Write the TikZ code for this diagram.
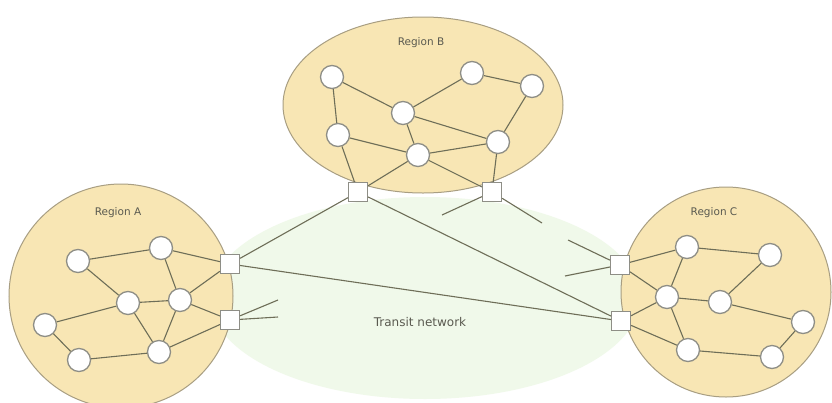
\documentclass[tikz,border=0pt]{standalone}
\usepackage{fontspec}
\setmainfont{DejaVu Sans}
\begin{document}
\begin{tikzpicture}[x=1pt,y=-1pt,
  region/.style={draw=regionline,fill=regionfill,line width=1pt},
  router/.style={circle,draw=nodeline,fill=white,line width=1.3pt,minimum size=23pt,inner sep=0pt},
  gateway/.style={rectangle,draw=nodeline,fill=white,line width=1.2pt,minimum size=19pt,inner sep=0pt},
  link/.style={draw=linkc,line width=1.1pt},
  lbl/.style={text=labelc,font=\fontsize{10.5}{12}\selectfont,inner sep=0pt}
]
\definecolor{regionfill}{HTML}{F8E6B4}
\definecolor{regionline}{HTML}{A89E82}
\definecolor{nodeline}{HTML}{8E8E86}
\definecolor{linkc}{HTML}{6E6E58}
\definecolor{labelc}{HTML}{5A5A50}
\definecolor{transit}{HTML}{F0F9EA}
\useasboundingbox (0,0) rectangle (832,402);
\fill[white] (0,0) rectangle (832,402);

% transit network
\fill[transit] (425,298) ellipse [x radius=215, y radius=101];
\node[lbl,font=\fontsize{12}{14}\selectfont] (tn) at (420,322) {Transit network};

% regions
\filldraw[region] (121,296) circle [radius=112];
\filldraw[region] (423,105) ellipse [x radius=140, y radius=88];
\filldraw[region] (726,292) circle [radius=105];

\node[lbl] (la) at (118,213) {Region A};
\node[lbl] (lb) at (421,43) {Region B};
\node[lbl] (lc) at (714,213) {Region C};

% Region A nodes
\node[router] (a1) at (78,261) {};
\node[router] (a2) at (161,248) {};
\node[router] (a3) at (128,303) {};
\node[router] (a4) at (180,300) {};
\node[router] (a5) at (45,325) {};
\node[router] (a6) at (79,360) {};
\node[router] (a7) at (159,352) {};
\node[gateway] (sa1) at (230,264) {};
\node[gateway] (sa2) at (230,320) {};

% Region B nodes
\node[router] (b1) at (332,77) {};
\node[router] (b2) at (472,73) {};
\node[router] (b3) at (532,86) {};
\node[router] (b4) at (403,113) {};
\node[router] (b5) at (338,135) {};
\node[router] (b6) at (418,155) {};
\node[router] (b7) at (498,142) {};
\node[gateway] (sb1) at (358,192) {};
\node[gateway] (sb2) at (492,192) {};

% Region C nodes
\node[router] (c1) at (687,247) {};
\node[router] (c2) at (770,255) {};
\node[router] (c3) at (667,297) {};
\node[router] (c4) at (720,302) {};
\node[router] (c5) at (803,322) {};
\node[router] (c6) at (688,350) {};
\node[router] (c7) at (772,357) {};
\node[gateway] (sc1) at (620,265) {};
\node[gateway] (sc2) at (621,321) {};

% stub end points
\coordinate (s1) at (278,300);
\coordinate (s2) at (278,317);
\coordinate (s3) at (442,215);
\coordinate (s4) at (542,223);
\coordinate (s5) at (568,240);
\coordinate (s6) at (565,276);

\path[link]
  (a1) -- (a2) (a2) -- (sa1) (a1) -- (a3) (a2) -- (a4) (a3) -- (a4)
  (a4) -- (sa1) (a4) -- (sa2) (a5) -- (a3) (a5) -- (a6) (a6) -- (a7)
  (a3) -- (a7) (a4) -- (a7) (a7) -- (sa2)
  (b1) -- (b4) (b1) -- (b5) (b2) -- (b4) (b2) -- (b3) (b3) -- (b7)
  (b4) -- (b7) (b4) -- (b6) (b5) -- (b6) (b6) -- (b7)
  (b5) -- (sb1) (b6) -- (sb1) (b6) -- (sb2) (b7) -- (sb2)
  (sc1) -- (c1) (sc1) -- (c3) (c1) -- (c3) (c1) -- (c2) (c2) -- (c4)
  (c3) -- (c4) (c3) -- (c6) (c4) -- (c5) (c5) -- (c7) (c6) -- (c7)
  (sc2) -- (c3) (sc2) -- (c6)
  (sa1) -- (sb1) (sa1) -- (sc2) (sb1) -- (sc2)
  (sa2) -- (s1) (sa2) -- (s2) (sb2) -- (s3) (sb2) -- (s4)
  (sc1) -- (s5) (sc1) -- (s6);
\end{tikzpicture}
\end{document}
